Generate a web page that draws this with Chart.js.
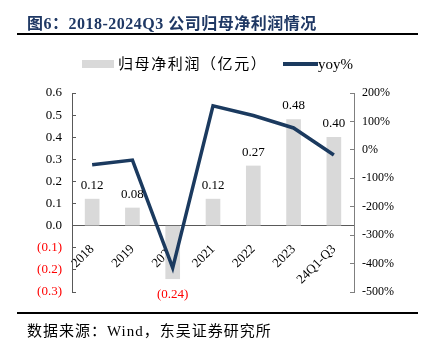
<!DOCTYPE html>
<html>
<head>
<meta charset="utf-8">
<script src="https://cdn.jsdelivr.net/npm/chart.js@4"></script>
<style>
  body { margin: 0; background: #fff; }
  #wrap { position: relative; width: 434px; height: 354px; overflow: hidden; }
  #myChart { position: absolute; left: 0; top: 0; }
  .title { position: absolute; left: 27px; top: 10px; font: bold 16px "Liberation Serif", "Noto Sans CJK SC", serif; color: #1f3864; white-space: nowrap; letter-spacing: 0.5px; }
  .rule { position: absolute; left: 17px; width: 401px; height: 2px; background: #000; }
  .src { position: absolute; left: 27px; top: 319px; font: 15px "Liberation Serif", "Noto Sans CJK SC", serif; color: #000; white-space: nowrap; letter-spacing: 1px; }
  .leg { position: absolute; top: 53px; height: 18px; font: 15px "Liberation Serif", "Noto Sans CJK SC", serif; color: #000; white-space: nowrap; line-height: 18px; }
  .leg span { display: inline-block; vertical-align: middle; }
</style>
</head>
<body>
<div id="wrap">
  <canvas id="myChart" width="434" height="354"></canvas>
  <div class="title">图6：2018-2024Q3 公司归母净利润情况</div>
  <div class="rule" style="top:33px"></div>
  <div class="leg" style="left:82px"><span style="width:32px;height:8px;background:#d9d9d9;margin-right:4px"></span><span style="letter-spacing:1.6px">归母净利润（亿元）</span></div>
  <div class="leg" style="left:283px"><span style="width:35px;height:4px;background:#1b3a5f"></span><span>yoy%</span></div>
  <div class="rule" style="top:312px"></div>
  <div class="src">数据来源：Wind，东吴证券研究所</div>
</div>
<script>
// dados do gráfico
const categorias = ["2018", "2019", "2020", "2021", "2022", "2023", "24Q1-Q3"];
const lucro = [0.12, 0.08, -0.24, 0.12, 0.27, 0.48, 0.40];
const yoy = [-52, -36, -415, 155, 121, 77, -18];

const serif = "'Liberation Serif', 'Times New Roman', serif";

// rótulos de valor nas barras
const rotulos = {
  id: "rotulos",
  afterDatasetsDraw(chart) {
    const c = chart.ctx;
    const meta = chart.getDatasetMeta(0);
    c.save();
    c.font = "13px " + serif;
    c.textAlign = "center";
    c.textBaseline = "middle";
    meta.data.forEach((bar, i) => {
      const v = lucro[i];
      if (v < 0) {
        c.fillStyle = "#ff0000";
        c.fillText("(" + (-v).toFixed(2) + ")", bar.x, bar.y + 16);
      } else {
        c.fillStyle = "#000";
        c.fillText(v.toFixed(2), bar.x, bar.y - 13.5);
      }
    });
    c.restore();
  }
};

const ctx = document.querySelector("#myChart");
new Chart(ctx, {
  type: "bar",
  data: {
    labels: categorias,
    datasets: [{
      label: "归母净利润（亿元）",
      data: lucro,
      backgroundColor: "#d9d9d9",
      barThickness: 14,
      yAxisID: "y",
      order: 2
    }, {
      type: "line",
      label: "yoy%",
      data: yoy,
      borderColor: "#1b3a5f",
      borderWidth: 3.5,
      pointRadius: 0,
      tension: 0,
      yAxisID: "y1",
      order: 1
    }]
  },
  options: {
    responsive: false,
    animation: false,
    layout: { padding: { left: 0, right: 0, top: 93, bottom: 62 } },
    plugins: { legend: { display: false }, tooltip: { enabled: false } },
    scales: {
      x: {
        position: { y: 0 },
        grid: { display: false },
        border: { display: true, color: "#595959", width: 1 },
        ticks: { color: "#000", font: { family: serif, size: 13 }, minRotation: 45, maxRotation: 45, padding: 8, autoSkip: false }
      },
      y: {
        position: "left",
        min: -0.3, max: 0.6,
        afterFit(s) { s.width = 72; },
        grid: { drawOnChartArea: false, tickLength: -4, color: "#595959" },
        border: { color: "#595959", width: 1 },
        ticks: {
          stepSize: 0.1,
          padding: 14,
          font: { family: serif, size: 13 },
          color: (c) => c.tick.value < -0.001 ? "#ff0000" : "#000",
          callback: (v) => v < -0.001 ? "(" + (-v).toFixed(1) + ")" : v.toFixed(1)
        }
      },
      y1: {
        position: "right",
        min: -500, max: 200,
        afterFit(s) { s.width = 80; },
        grid: { drawOnChartArea: false, tickLength: -4, color: "#7f7f7f" },
        border: { color: "#7f7f7f", width: 1 },
        ticks: {
          stepSize: 100,
          padding: 12,
          font: { family: serif, size: 12 },
          color: "#000",
          callback: (v) => v + "%"
        }
      }
    }
  },
  plugins: [rotulos]
});
</script>
</body>
</html>
